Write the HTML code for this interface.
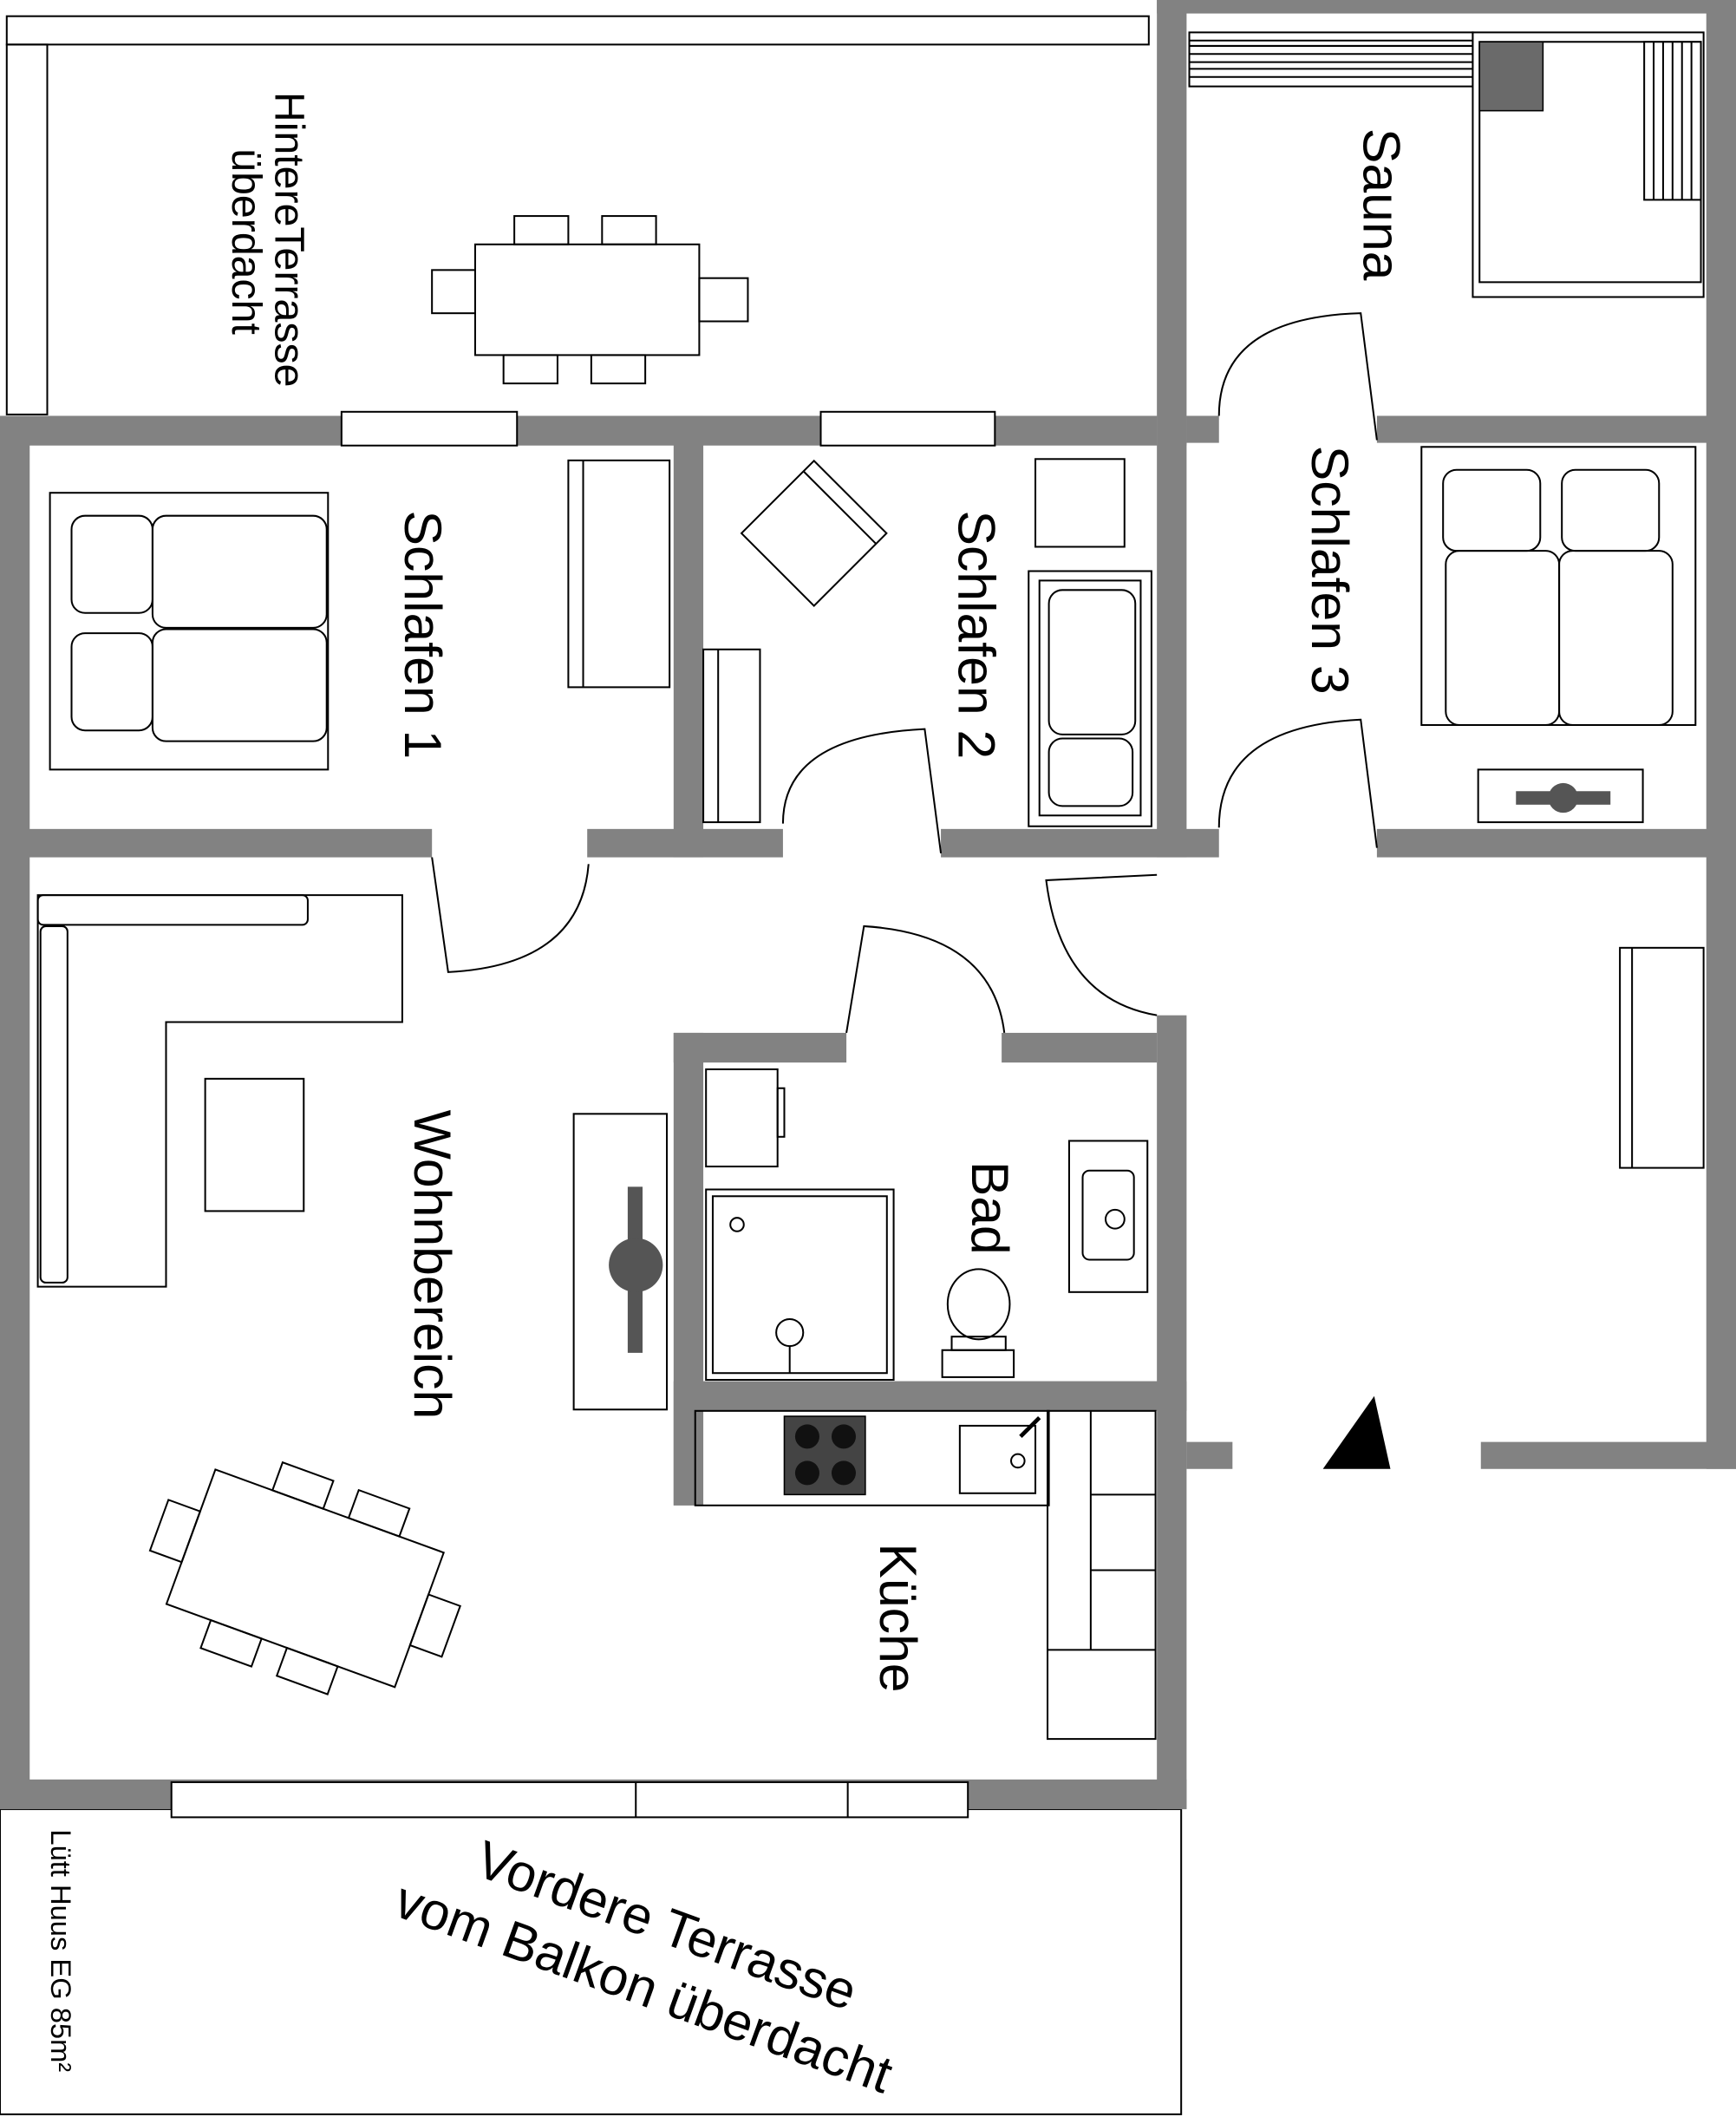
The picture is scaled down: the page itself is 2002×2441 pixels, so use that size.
<!DOCTYPE html>
<html><head><meta charset="utf-8"><style>
html,body{margin:0;padding:0;background:#fff;}
svg{display:block;}
text{font-family:"Liberation Sans",sans-serif;fill:#000;}
</style></head><body>
<svg width="2002" height="2441" viewBox="0 0 1286 1568" preserveAspectRatio="none" xmlns="http://www.w3.org/2000/svg">
<rect width="1286" height="1568" fill="#fff"/>
<g fill="none" stroke="#000" stroke-width="1.3">
<rect x="5" y="12" width="846" height="21"/>
<rect x="5" y="33" width="30" height="274"/>
<rect x="0" y="1340" width="875" height="226"/>
</g>
<g fill="#828282">
<rect x="857" y="0" width="429" height="10"/>
<rect x="1264" y="0" width="22" height="1088"/>
<rect x="857" y="0" width="22" height="330"/>
<rect x="879" y="308" width="24" height="20"/>
<rect x="1020" y="308" width="266" height="20"/>
<rect x="0" y="308" width="857" height="22"/>
<rect x="0" y="308" width="22" height="1032"/>
<rect x="499" y="308" width="22" height="327"/>
<rect x="857" y="308" width="22" height="327"/>
<rect x="0" y="614" width="320" height="21"/>
<rect x="435" y="614" width="145" height="21"/>
<rect x="697" y="614" width="206" height="21"/>
<rect x="1020" y="614" width="266" height="21"/>
<rect x="499" y="765" width="128" height="22"/>
<rect x="742" y="765" width="115" height="22"/>
<rect x="499" y="765" width="22" height="350"/>
<rect x="857" y="752" width="22" height="588"/>
<rect x="499" y="1023" width="380" height="22"/>
<rect x="499" y="1045" width="16" height="70"/>
<rect x="879" y="1068" width="34" height="20"/>
<rect x="1097" y="1068" width="189" height="20"/>
<rect x="0" y="1318" width="879" height="22"/>
</g>
<g fill="#fff" stroke="#000" stroke-width="1.3">
<rect x="253" y="305" width="130" height="25"/>
<rect x="608" y="305" width="129" height="25"/>
<rect x="127" y="1320" width="590" height="26"/>
<line x1="471" y1="1320" x2="471" y2="1346"/>
<line x1="628" y1="1320" x2="628" y2="1346"/>
<rect x="881" y="24" width="210" height="40"/>
<line x1="881" y1="30" x2="1091" y2="30"/><line x1="881" y1="34" x2="1091" y2="34"/><line x1="881" y1="40" x2="1091" y2="40"/><line x1="881" y1="46" x2="1091" y2="46"/><line x1="881" y1="51" x2="1091" y2="51"/><line x1="881" y1="57" x2="1091" y2="57"/>
<rect x="1091" y="24" width="171" height="196"/>
<rect x="1096" y="31" width="164" height="178"/>
<rect x="1218" y="31" width="42" height="117"/>
<line x1="1225" y1="31" x2="1225" y2="148"/><line x1="1232" y1="31" x2="1232" y2="148"/><line x1="1239" y1="31" x2="1239" y2="148"/><line x1="1246" y1="31" x2="1246" y2="148"/><line x1="1253" y1="31" x2="1253" y2="148"/>
</g>
<rect x="1096" y="31" width="47" height="51" fill="#6a6a6a" stroke="#000"/>
<g fill="none" stroke="#000" stroke-width="1.3">
<rect x="352" y="181" width="166" height="82" fill="#fff"/>
<rect x="381" y="160" width="40" height="21"/><rect x="446" y="160" width="40" height="21"/>
<rect x="373" y="263" width="40" height="21"/><rect x="438" y="263" width="40" height="21"/>
<rect x="320" y="200" width="32" height="32"/><rect x="518" y="206" width="36" height="32"/>
<rect x="37" y="365" width="206" height="205"/>
<rect x="53" y="382" width="60" height="72" rx="10"/>
<rect x="53" y="469" width="60" height="72" rx="10"/>
<rect x="113" y="382" width="129" height="83" rx="10"/>
<rect x="113" y="466" width="129" height="83" rx="10"/>
<rect x="421" y="341" width="75" height="168"/>
<line x1="432" y1="341" x2="432" y2="509"/>
<rect x="521" y="481" width="42" height="128"/><line x1="532" y1="481" x2="532" y2="609"/>
<g transform="translate(603,395) rotate(45)"><rect x="-38" y="-38" width="76" height="76"/><line x1="-38" y1="-27" x2="38" y2="-27"/></g>
<rect x="767" y="340" width="66" height="65"/>
<rect x="762" y="423" width="91" height="189"/>
<rect x="770" y="430" width="75" height="174"/>
<rect x="777" y="437" width="64" height="107" rx="10"/>
<rect x="777" y="547" width="62" height="50" rx="10"/>
<rect x="1053" y="331" width="203" height="206"/>
<rect x="1069" y="348" width="72" height="60" rx="10"/>
<rect x="1157" y="348" width="72" height="60" rx="10"/>
<rect x="1071" y="408" width="84" height="129" rx="10"/>
<rect x="1155" y="408" width="84" height="129" rx="10"/>
<rect x="1095" y="570" width="122" height="39"/>
<rect x="1200" y="702" width="62" height="163"/><line x1="1209" y1="702" x2="1209" y2="865"/>
<path d="M320 635 L332 720 Q430 715 436 640"/>
<path d="M580 610 Q580 545 685 540 L697 632"/>
<path d="M903 308 Q903 235 1008 232 L1020 326"/>
<path d="M903 613 Q903 538 1008 533 L1020 628"/>
<path d="M857 648 L775 652 Q786 740 857 752"/>
<path d="M627 765 L640 686 Q735 692 744 765"/>
<path d="M28 663 H298 V757 H123 V953 H28 Z"/>
<rect x="28" y="663" width="200" height="22" rx="4"/>
<rect x="30" y="686" width="20" height="264" rx="4"/>
<rect x="152" y="799" width="73" height="98"/>
<rect x="425" y="825" width="69" height="219"/>
<rect x="523" y="792" width="53" height="72"/><rect x="576" y="806" width="5" height="36"/>
<rect x="523" y="881" width="139" height="141"/><rect x="528" y="886" width="129" height="131"/>
<circle cx="546" cy="907" r="5"/><circle cx="585" cy="987" r="10"/><line x1="585" y1="997" x2="585" y2="1017"/>
<rect x="792" y="845" width="58" height="112"/><rect x="802" y="867" width="38" height="66" rx="5"/><circle cx="826" cy="903" r="7"/>
<ellipse cx="725" cy="966" rx="23" ry="26"/><rect x="705" y="990" width="40" height="10"/><rect x="698" y="1000" width="53" height="20"/>
<rect x="515" y="1045" width="262" height="70"/>
<rect x="711" y="1056" width="56" height="50"/><circle cx="754" cy="1082" r="5"/><line x1="756" y1="1064" x2="770" y2="1050" stroke-width="3"/>
<rect x="776" y="1045" width="80" height="243"/>
<line x1="808" y1="1045" x2="808" y2="1222"/>
<line x1="808" y1="1107" x2="856" y2="1107"/><line x1="808" y1="1163" x2="856" y2="1163"/><line x1="776" y1="1222" x2="856" y2="1222"/>
<g transform="translate(226,1169) rotate(20)">
<rect x="-90" y="-53" width="180" height="106" fill="#fff"/>
<rect x="-45" y="-75" width="40" height="22"/><rect x="15" y="-75" width="40" height="22"/>
<rect x="-55" y="53" width="40" height="22"/><rect x="5" y="53" width="40" height="22"/>
<rect x="-115" y="-20" width="25" height="40"/><rect x="90" y="-20" width="25" height="40"/>
</g>
</g>
<rect x="581" y="1049" width="60" height="58" fill="#444" stroke="#000"/>
<g fill="#111"><circle cx="598" cy="1064" r="9"/><circle cx="625" cy="1064" r="9"/><circle cx="598" cy="1091" r="9"/><circle cx="625" cy="1091" r="9"/></g>
<rect x="465" y="879" width="11" height="123" fill="#555"/>
<circle cx="471" cy="937" r="20" fill="#555"/>
<rect x="1123" y="586" width="70" height="10" fill="#555"/>
<circle cx="1158" cy="591" r="11" fill="#555"/>
<polygon points="980,1088 1018,1034 1030,1088" fill="#000"/>
<g font-size="39" xml:space="preserve">
<text transform="translate(300,378) rotate(90)">Schlafen  1</text>
<text transform="translate(710,378) rotate(90)">Schlafen  2</text>
<text transform="translate(972,330) rotate(90)">Schlafen  3</text>
<text transform="translate(1010,95) rotate(90)">Sauna</text>
<text transform="translate(307,822) rotate(90)">Wohnbereich</text>
<text transform="translate(720,860) rotate(90)">Bad</text>
<text transform="translate(652,1143) rotate(90)">Küche</text>
</g>
<g font-size="31">
<text transform="translate(204,68) rotate(90)">HintereTerrasse</text>
<text transform="translate(172,110) rotate(90)">überdacht</text>
</g>
<g font-size="39">
<text transform="translate(350,1388) rotate(20)">Vordere Terrasse</text>
<text transform="translate(290,1418) rotate(20)">vom Balkon überdacht</text>
</g>
<text font-size="21" transform="translate(38,1355) rotate(90)">Lütt Huus EG 85m²</text>
</svg>
</body></html>
